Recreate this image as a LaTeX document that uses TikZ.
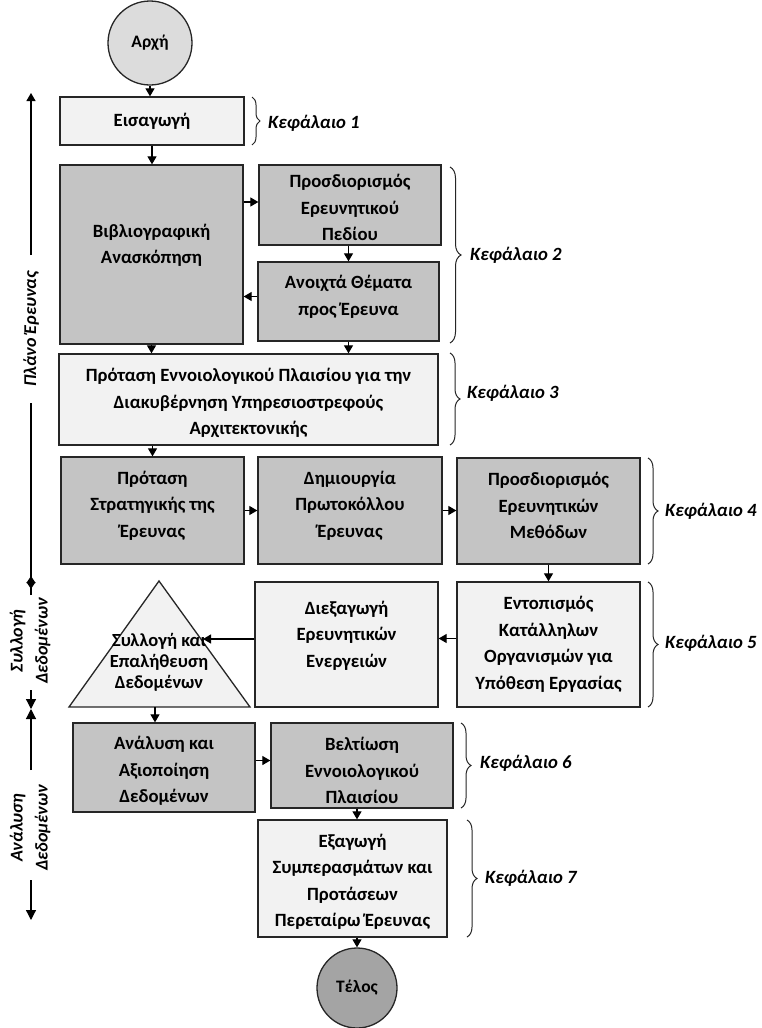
\documentclass[tikz,border=0pt]{standalone}
\usepackage{fontspec}
\setmainfont{Carlito}
\usetikzlibrary{arrows.meta,decorations.pathreplacing,calc}
\definecolor{dk}{HTML}{C4C4C4}
\definecolor{lt}{HTML}{F2F2F2}
\definecolor{stc}{HTML}{DCDCDC}
\definecolor{endc}{HTML}{A4A4A4}
\definecolor{ln}{HTML}{262626}
% box with its text placed at its own height
\newcommand\mkbox[8]{%
  \node[#1, minimum width=#5pt, minimum height=#6pt] (#2) at (#3,#4) {};
  \node[boxt] (#2t) at (#3,#7) {#8};}
\begin{document}
\begin{tikzpicture}[x=1pt,y=-1pt,
  box/.style={draw=ln, line width=1.3pt, inner sep=0pt},
  dkbox/.style={box, fill=dk},
  ltbox/.style={box, fill=lt},
  boxt/.style={align=center, inner sep=0pt, font=\bfseries\fontsize{18.7}{26.5}\selectfont},
  arr/.style={-{Triangle[length=8pt,width=9pt]}, line width=1.2pt, draw=black},
  arrs/.style={-{Triangle[length=7pt,width=9pt]}, line width=1.2pt, draw=black},
  arrb/.style={-{Triangle[length=10pt,width=10pt]}, line width=1.2pt, draw=black},
  br/.style={decorate, line width=1pt, draw=ln},
  kef/.style={anchor=west, font=\bfseries\itshape\fontsize{18.7}{22}\selectfont, inner sep=0pt},
  axl/.style={rotate=90, align=center, inner sep=0pt, font=\bfseries\itshape\fontsize{18}{25}\selectfont},
  circ/.style={circle, draw=ln, line width=1.3pt, inner sep=0pt, font=\bfseries\fontsize{17.5}{20}\selectfont}
]
\fill[white] (0,0) rectangle (761,1028);
\useasboundingbox (0,0) rectangle (761,1028);

% nodes
\node[circ, fill=stc, minimum size=84pt] (start) at (150,43) {Αρχή};
\mkbox{ltbox}{intro}{152}{121}{184}{48}{121}{Εισαγωγή}
\mkbox{dkbox}{bib}{151.5}{254.5}{183}{179}{245.5}{Βιβλιογραφική\\Ανασκόπηση}
\mkbox{dkbox}{field}{350}{205}{182}{80}{207.5}{Προσδιορισμός\\Ερευνητικού\\Πεδίου}
\mkbox{dkbox}{open}{348.5}{301.5}{181}{79}{297}{Ανοιχτά Θέματα\\προς Έρευνα}
\mkbox{ltbox}{frame}{248.5}{399.5}{379}{91}{403}{Πρόταση Εννοιολογικού Πλαισίου για την\\Διακυβέρνηση Υπηρεσιοστρεφούς\\Αρχιτεκτονικής}
\mkbox{dkbox}{strat}{152.5}{510.5}{183}{107}{505.5}{Πρόταση\\Στρατηγικής της\\Έρευνας}
\mkbox{dkbox}{proto}{350}{510.5}{184}{107}{505.5}{Δημιουργία\\Πρωτοκόλλου\\Έρευνας}
\mkbox{dkbox}{meth}{548.5}{511}{183}{106}{505.5}{Προσδιορισμός\\Ερευνητικών\\Μεθόδων}
\mkbox{ltbox}{org}{548.5}{644.5}{183}{125}{644.5}{Εντοπισμός\\Κατάλληλων\\Οργανισμών για\\Υπόθεση Εργασίας}
\mkbox{ltbox}{act}{346.5}{644.5}{183}{125}{635.5}{Διεξαγωγή\\Ερευνητικών\\Ενεργειών}

\coordinate (tA) at (159,581);
\coordinate (tL) at (69,707);
\coordinate (tR) at (250,707);
\draw[fill=lt, draw=ln, line width=1.3pt, line join=miter] (tA) -- (tL) -- (tR) -- cycle;
\node[align=center, inner sep=0pt, font=\bfseries\fontsize{18.5}{21}\selectfont] (tri) at (159,662) {Συλλογή και\\Επαλήθευση\\Δεδομένων};
\coordinate (tE) at (203,639);
\coordinate (tB) at (155,707);

\mkbox{dkbox}{anal}{164}{767.5}{182}{89}{771}{Ανάλυση και\\Αξιοποίηση\\Δεδομένων}
\mkbox{dkbox}{impr}{362}{765.5}{182}{85}{770.5}{Βελτίωση\\Εννοιολογικού\\Πλαισίου}
\mkbox{ltbox}{concl}{352.5}{878.5}{189}{117}{882}{Εξαγωγή\\Συμπερασμάτων και\\Προτάσεων\\Περεταίρω Έρευνας}
\node[circ, fill=endc, minimum size=80pt] (end) at (357,988) {Τέλος};

% connectors
\draw[arr] (start.south) -- (start.south |- intro.north);
\draw[arr] (intro.south) -- (intro.south |- bib.north);
\draw[arr] ([yshift=3pt]field.west -| bib.east) -- ([yshift=3pt]field.west);
\draw[arr] (open.north |- field.south) -- (open.north);
\draw[arr] ([yshift=5pt]open.west) -- ([yshift=5pt]open.west -| bib.east);
\draw[arr] (bib.south) -- (bib.south |- frame.north);
\draw[arr] (open.south) -- (open.south |- frame.north);
\draw[arr] (strat.north |- frame.south) -- (strat.north);
\draw[arr] (strat.east) -- (proto.west);
\draw[arr] (proto.east) -- (proto.east -| meth.west);
\draw[arr] (meth.south) -- (org.north);
\draw[arr] ([yshift=6pt]org.west) -- ([yshift=6pt]act.east);
\draw[arr] ([yshift=5.5pt]act.west) -- (tE);
\draw[arr] (tB) -- (tB |- anal.north);
\draw[arr] ([yshift=7pt]anal.east) -- ([yshift=7pt]anal.east -| impr.west);
\draw[arr] (end.north |- impr.south) -- (end.north |- concl.north);
\draw[arr] (end.north |- concl.south) -- (end.north);

% braces and chapter labels
\draw[br, decoration={brace, amplitude=8pt}] (252,97) -- (252,145);
\node[kef] (k1) at (268,123) {Κεφάλαιο 1};
\draw[br, decoration={brace, amplitude=11pt}] (450,167) -- (450,343);
\node[kef] (k2) at (470,255) {Κεφάλαιο 2};
\draw[br, decoration={brace, amplitude=10pt}] (450,353) -- (450,445);
\node[kef] (k3) at (467,393) {Κεφάλαιο 3};
\draw[br, decoration={brace, amplitude=10pt}] (648,458) -- (648,564);
\node[kef] (k4) at (665,511) {Κεφάλαιο 4};
\draw[br, decoration={brace, amplitude=10pt}] (648,582) -- (648,707);
\node[kef] (k5) at (665,643) {Κεφάλαιο 5};
\draw[br, decoration={brace, amplitude=10pt}] (461,723) -- (461,808);
\node[kef] (k6) at (480,763) {Κεφάλαιο 6};
\draw[br, decoration={brace, amplitude=10pt}] (467,820) -- (467,937);
\node[kef] (k7) at (485,878) {Κεφάλαιο 7};

% left axis
\coordinate (a1t) at (31,93);
\coordinate (a1b) at (31,255);
\node[axl] (plan) at (31,329) {Πλάνο Έρευνας};
\coordinate (a2t) at (31,403);
\coordinate (a2b) at (31,589);
\coordinate (a3t) at (31,595);
\coordinate (a3u) at (31,576);
\node[axl] (coll) at (30,641) {Συλλογή\\Δεδομένων};
\coordinate (a4t) at (31,690);
\coordinate (a4m) at (31,709);
\coordinate (a5b) at (31,770);
\node[axl] (anl) at (30,828) {Ανάλυση\\Δεδομένων};
\coordinate (a6t) at (31,880);
\coordinate (a6b) at (31,920);
\draw[arr] (a1b) -- (a1t);
\draw[arrs] (a2t) -- (a2b);
\draw[arrs] (a3t) -- (a3u);
\draw[arrb] (a4t) -- (a4m);
\draw[arrb] (a5b) -- (a4m);
\draw[arrb] (a6t) -- (a6b);
\end{tikzpicture}
\end{document}
